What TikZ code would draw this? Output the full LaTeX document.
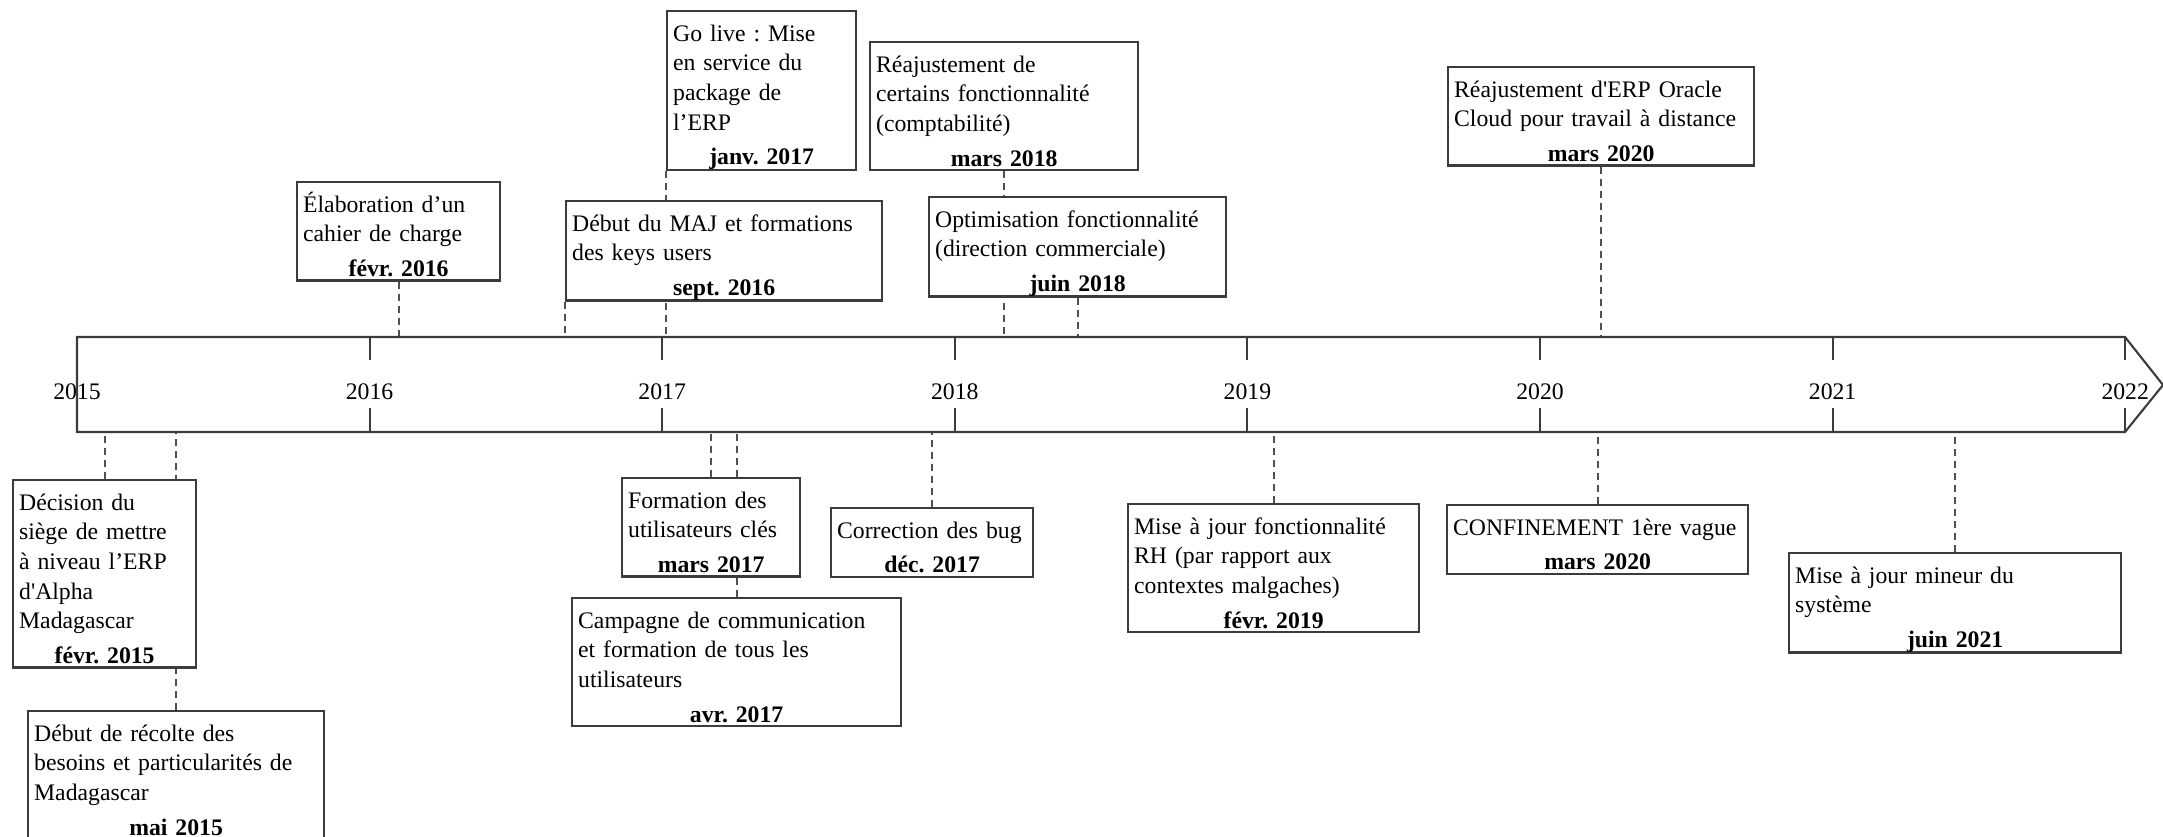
\documentclass[tikz,border=0pt]{standalone}
\usepackage{fontspec}
\setmainfont{Liberation Serif}
\usetikzlibrary{positioning, calc}
\definecolor{boxgray}{RGB}{60,60,60}
\definecolor{dashgray}{RGB}{80,80,80}
\pgfdeclarelayer{bg}
\pgfsetlayers{bg,main}
\frenchspacing
\newcommand{\evfont}{\fontsize{6.75}{8.45}\selectfont\frenchspacing}
\newcommand{\evtop}{\rule{0pt}{8.54pt}}
\newcommand{\evdate}[1]{\\[1.4pt]\leavevmode\hfill\textbf{#1}\hfill\null\rule[-1.14pt]{0pt}{1.14pt}}
\tikzset{
  evbox/.style={draw=boxgray, line width=0.65pt, fill=white, anchor=north west, align=left, inner xsep=0.6mm, inner ysep=0pt, font=\evfont},
  yearlbl/.style={font=\evfont, inner sep=0pt},
  dashline/.style={draw=dashgray, line width=0.55pt, dash pattern=on 0.7mm off 0.5mm},
  axisline/.style={draw=boxgray, line width=0.6pt}
}

\begin{document}
\begin{tikzpicture}[x=0.1mm, y=-0.1mm]
  \useasboundingbox (0,0) rectangle (2163,837);

  % axe du temps
  \coordinate (axtop) at (77,337);
  \coordinate (axbot) at (77,432);
  \draw[axisline] (axtop) -- (2125,337) -- (2163,385) coordinate (tip) -- (2125,432) -- (axbot) -- cycle;
  \foreach \yr [count=\i from 0] in {2015,...,2022} {
    \node[yearlbl] (y\yr) at (77+292.6*\i,392) {\yr};
  }
  \foreach \yr in {2016,...,2022} {
    \draw[axisline] (y\yr |- axtop) -- ++(0,23);
    \draw[axisline] (y\yr |- axbot) -- ++(0,-24);
  }

  % au-dessus de l'axe
  \node[evbox, text width=19.1mm] (elab) at (296,181) {\evtop Élaboration d’un\\cahier de charge\evdate{févr. 2016}};
  \node[evbox, text width=17.7mm] (golive) at (666,10) {\evtop Go live : Mise\\en service du\\package de\\l’ERP\evdate{janv. 2017}};
  \node[evbox, text width=30.4mm] (majkeys) at (565,200) {\evtop Début du MAJ et formations\\des keys users\evdate{sept. 2016}};
  \node[evbox, text width=25.6mm] (reajcompta) at (869,41) {\evtop Réajustement de\\certains fonctionnalité\\(comptabilité)\evdate{mars 2018}};
  \node[evbox, text width=28.5mm] (optim) at (928,196) {\evtop Optimisation fonctionnalité\\(direction commerciale)\evdate{juin 2018}};
  \node[evbox, text width=29.4mm] (oracle) at (1447,66) {\evtop Réajustement d\textquotesingle ERP Oracle\\Cloud pour travail à distance\evdate{mars 2020}};

  % au-dessous de l'axe
  \node[evbox, text width=17.1mm] (decision) at (12,479) {\evtop Décision du\\siège de mettre\\à niveau l’ERP\\d\textquotesingle Alpha\\Madagascar\evdate{févr. 2015}};
  \node[evbox, text width=28.4mm] (recolte) at (27,710) {\evtop Début de récolte des\\besoins et particularités de\\Madagascar\evdate{mai 2015}};
  \node[evbox, text width=16.6mm] (formcles) at (621,477) {\evtop Formation des\\utilisateurs clés\evdate{mars 2017}};
  \node[evbox, text width=31.7mm] (campagne) at (571,597) {\evtop Campagne de communication\\et formation de tous les\\utilisateurs\evdate{avr. 2017}};
  \node[evbox, text width=19.0mm] (bug) at (830,507) {\evtop Correction des bug\evdate{déc. 2017}};
  \node[evbox, text width=27.9mm] (rh) at (1127,503) {\evtop Mise à jour fonctionnalité\\RH (par rapport aux\\contextes malgaches)\evdate{févr. 2019}};
  \node[evbox, text width=28.9mm] (confin) at (1446,504) {\evtop CONFINEMENT 1ère vague\evdate{mars 2020}};
  \node[evbox, text width=32.0mm] (mineur) at (1788,552) {\evtop Mise à jour mineur du\\système\evdate{juin 2021}};

  \begin{pgfonlayer}{bg}
    \draw[dashline] (elab.south) -- (elab.south |- axtop);
    \draw[dashline] (golive.south west) -- (golive.south west |- axtop);
    \draw[dashline] (majkeys.south west) -- (majkeys.south west |- axtop);
    \draw[dashline] (reajcompta.south) -- (reajcompta.south |- axtop);
    \draw[dashline] (optim.south) -- (optim.south |- axtop);
    \draw[dashline] (oracle.south) -- (oracle.south |- axtop);
    \draw[dashline] (decision.north) -- (decision.north |- axbot);
    \draw[dashline] (recolte.north) -- (recolte.north |- axbot);
    \draw[dashline] (formcles.north) -- (formcles.north |- axbot);
    \draw[dashline] (campagne.north) -- (campagne.north |- axbot);
    \draw[dashline] (bug.north) -- (bug.north |- axbot);
    \draw[dashline] (rh.north) -- (rh.north |- axbot);
    \draw[dashline] (confin.north) -- (confin.north |- axbot);
    \draw[dashline] (mineur.north) -- (mineur.north |- axbot);
  \end{pgfonlayer}
\end{tikzpicture}
\end{document}
